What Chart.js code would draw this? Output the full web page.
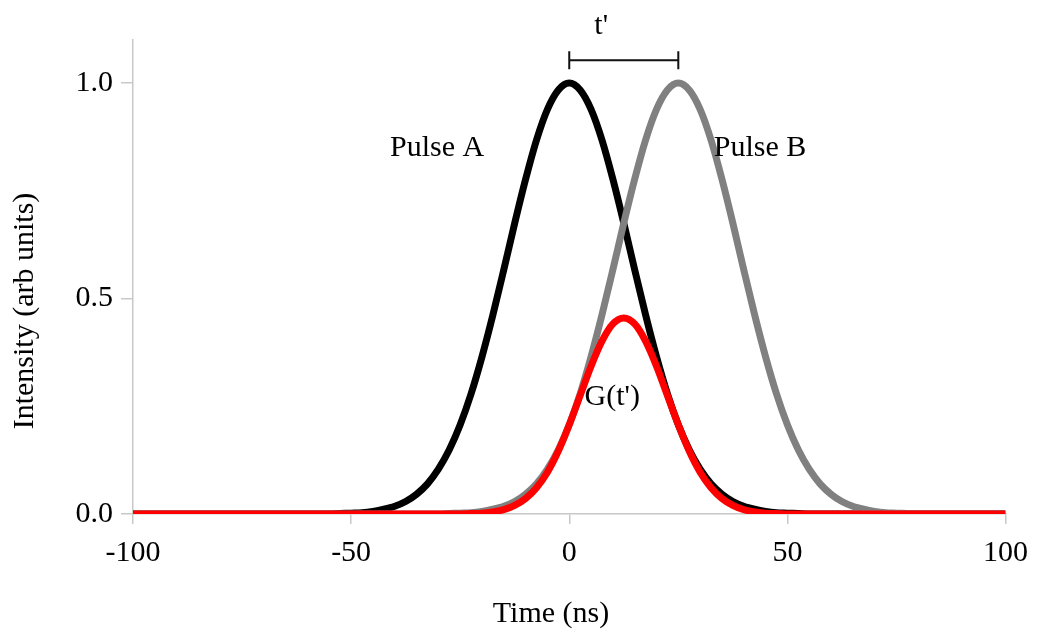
<!DOCTYPE html>
<html>
<head>
<meta charset="utf-8">
<script src="https://cdn.jsdelivr.net/npm/chart.js@4/dist/chart.umd.min.js"></script>
<style>
html,body{margin:0;padding:0;background:#fff;}
#wrap{width:1039px;height:635px;position:relative;}
</style>
</head>
<body>
<div id="wrap"><canvas id="c" width="1039" height="635"></canvas></div>
<script>
// Time axis (ns)
const time = [
  -100,-97.5,-95,-92.5,-90,-87.5,-85,-82.5,-80,-77.5,-75,-72.5,-70,-67.5,-65,-62.5,-60,-57.5,-55,-52.5,
  -50,-47.5,-45,-42.5,-40,-37.5,-35,-32.5,-30,-27.5,-25,-22.5,-20,-17.5,-15,-12.5,-10,-7.5,-5,-2.5,
  0,2.5,5,7.5,10,12.5,15,17.5,20,22.5,25,27.5,30,32.5,35,37.5,40,42.5,45,47.5,
  50,52.5,55,57.5,60,62.5,65,67.5,70,72.5,75,77.5,80,82.5,85,87.5,90,92.5,95,97.5,100
];
// Pulse A intensity
const pulseA = [
  0,0,0,0,0,0,0,0,0,0,0,0,0,0,0,0,0,0,0,0.001,
  0.002,0.003,0.006,0.011,0.018,0.029,0.046,0.070,0.104,0.149,0.207,0.279,0.365,0.462,0.567,0.675,0.777,0.868,0.939,0.984,
  1.000,0.984,0.939,0.868,0.777,0.675,0.567,0.462,0.365,0.279,0.207,0.149,0.104,0.070,0.046,0.029,0.018,0.011,0.006,0.003,
  0.002,0.001,0,0,0,0,0,0,0,0,0,0,0,0,0,0,0,0,0,0,0
];
// Pulse B intensity
const pulseB = [
  0,0,0,0,0,0,0,0,0,0,0,0,0,0,0,0,0,0,0,0,
  0,0,0,0,0,0,0,0,0,0.001,0.002,0.003,0.006,0.011,0.018,0.029,0.046,0.070,0.104,0.149,
  0.207,0.279,0.365,0.462,0.567,0.675,0.777,0.868,0.939,0.984,1.000,0.984,0.939,0.868,0.777,0.675,0.567,0.462,0.365,0.279,
  0.207,0.149,0.104,0.070,0.046,0.029,0.018,0.011,0.006,0.003,0.002,0.001,0,0,0,0,0,0,0,0,0
];
// G(t') overlap
const overlapG = [
  0,0,0,0,0,0,0,0,0,0,0,0,0,0,0,0,0,0,0,0,
  0,0,0,0,0,0,0,0,0,0,0,0.001,0.002,0.005,0.010,0.020,0.036,0.061,0.097,0.146,
  0.207,0.275,0.343,0.401,0.441,0.455,0.441,0.401,0.343,0.275,0.207,0.146,0.097,0.061,0.036,0.020,0.010,0.005,0.002,0.001,
  0,0,0,0,0,0,0,0,0,0,0,0,0,0,0,0,0,0,0,0,0
];
const xTicks = [-100,-50,0,50,100];
const yTicks = [0,0.5,1.0];
const yTickLabels = ['0.0','0.5','1.0'];
const xTitle = 'Time (ns)';
const yTitle = 'Intensity (arb units)';
const labels = [
  {text:'Pulse A', x:-30.3, y:0.831},
  {text:'Pulse B', x:43.75, y:0.831},
  {text:"G(t')",  x:9.85,  y:0.252},
  {text:"t'",     x:7.33,  y:1.113}
];
const bracket = {x0:0, x1:25, y:1.053};

const FONT = '"Liberation Serif","Times New Roman",serif';
const pts = arr => time.map((t,i)=>({x:t,y:arr[i]}));

const annot = {
  id:'annot',
  afterDraw(chart){
    const ctx = chart.ctx, xs = chart.scales.x, ys = chart.scales.y;
    ctx.save();
    ctx.fillStyle = '#000';
    ctx.font = '30px ' + FONT;
    ctx.textAlign = 'center';
    ctx.textBaseline = 'alphabetic';
    labels.forEach(l=>{
      ctx.fillText(l.text, xs.getPixelForValue(l.x), ys.getPixelForValue(l.y));
    });
    // bracket
    const bx0 = xs.getPixelForValue(bracket.x0), bx1 = xs.getPixelForValue(bracket.x1), by = ys.getPixelForValue(bracket.y);
    ctx.strokeStyle = '#111';
    ctx.lineWidth = 2;
    ctx.beginPath();
    ctx.moveTo(bx0,by); ctx.lineTo(bx1,by);
    ctx.moveTo(bx0,by-9); ctx.lineTo(bx0,by+9);
    ctx.moveTo(bx1,by-9); ctx.lineTo(bx1,by+9);
    ctx.stroke();
    // axis titles
    ctx.fillText(xTitle, 551, 622);
    ctx.translate(33, 311);
    ctx.rotate(-Math.PI/2);
    ctx.fillText(yTitle, 0, 0);
    ctx.restore();
  }
};

new Chart(document.getElementById('c'), {
  type:'line',
  data:{
    datasets:[
      {label:"G(t')", data:pts(overlapG), borderColor:'#ff0000', order:0},
      {label:'Pulse B', data:pts(pulseB), borderColor:'#808080', order:1},
      {label:'Pulse A', data:pts(pulseA), borderColor:'#000000', order:2}
    ].map(d=>Object.assign(d,{borderWidth:7, pointRadius:0, cubicInterpolationMode:'monotone', fill:false, borderCapStyle:'butt', borderJoinStyle:'round'}))
  },
  options:{
    responsive:false,
    animation:false,
    devicePixelRatio:1,
    layout:{padding:{top:40,right:33,left:0,bottom:0}},
    plugins:{legend:{display:false}, tooltip:{enabled:false}},
    scales:{
      x:{
        type:'linear', min:-100, max:100,
        afterBuildTicks: s=>{ s.ticks = xTicks.map(v=>({value:v})); },
        afterFit: s=>{ s.height = 121; },
        ticks:{font:{family:FONT,size:30}, color:'#000', padding:11, maxRotation:0, autoSkip:false,
          callback:v=>String(v)},
        grid:{drawOnChartArea:false, drawTicks:true, tickLength:10, color:'#c8c8c8', lineWidth:1.5},
        border:{color:'#c8c8c8', width:1.5}
      },
      y:{
        type:'linear', min:0, max:1.1,
        afterBuildTicks: s=>{ s.ticks = yTicks.map(v=>({value:v})); },
        afterFit: s=>{ s.width = 133; },
        ticks:{font:{family:FONT,size:30}, color:'#000', padding:8,
          callback:(v)=>{ const i = yTicks.indexOf(v); return i>=0 ? yTickLabels[i] : ''; }},
        grid:{drawOnChartArea:false, drawTicks:true, tickLength:12, color:'#c8c8c8', lineWidth:1.5},
        border:{color:'#c8c8c8', width:1.5}
      }
    }
  },
  plugins:[annot]
});
</script>
</body>
</html>
